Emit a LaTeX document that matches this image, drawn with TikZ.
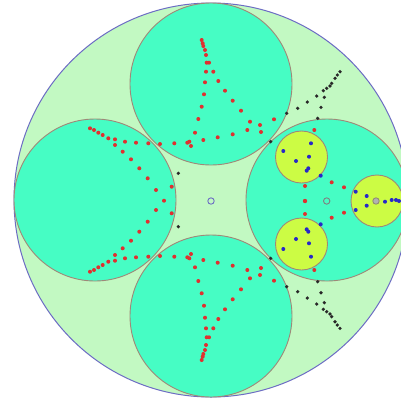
\documentclass[tikz,border=0pt]{standalone}
\begin{document}
\begin{tikzpicture}[x=1pt,y=-1pt,
  outerc/.style={fill=outerfill,draw=outerline,line width=1pt},
  bigc/.style={fill=aqua,draw=brownline,line width=0.9pt},
  yelc/.style={fill=yelfill,draw=brownline,line width=0.9pt},
  rdot/.style={fill=dotred},
  bdot/.style={fill=dotblue},
  kdot/.style={fill=dotblack}]
\definecolor{outerfill}{HTML}{C2F9C2}
\definecolor{outerline}{HTML}{6C6CC4}
\definecolor{aqua}{HTML}{46FDC4}
\definecolor{yelfill}{HTML}{CCFC44}
\definecolor{brownline}{HTML}{A08878}
\definecolor{dotred}{HTML}{E03030}
\definecolor{dotblue}{HTML}{2828C8}
\definecolor{dotblack}{HTML}{282828}
\clip (0,0) rectangle (401,400);
\fill[white] (0,0) rectangle (401,400);
% outer disc
\draw[outerc] (211,200) circle (197);
% four big discs
\draw[bigc] (211,84) circle (81);
\draw[bigc] (211,316) circle (81);
\draw[bigc] (95,200) circle (81);
\draw[bigc] (327,200) circle (81);
% three yellow discs
\draw[yelc] (301.5,157) circle (26);
\draw[yelc] (301.5,244) circle (26);
\draw[yelc] (377,201) circle (26);
% red dots, upper half and mirror
\foreach \x/\y in {201.7/40,202.7/43.3,203.3/46,205/50,206/55,206.7/62.7,209/62.7,206/71.7,213.3/71.7,
  205/82.3,204/94.3,201.7/106.7,198.3/119,195/132.7,
  218.3/81,225/90.7,232.7/100.7,241/110.7,250/121.7,260/125,274/119.3,
  203.3/140,217.7/137.3,232.7/134.3,247.3/130,261/132,189.3/141.7,191/146,
  187.3/142.7,174.3/143.3,160/144,148.3/143.3,136/142.7,125/141.7,115/139.3,115/145,
  90/128.3,94/130,98.3/132.7,102.7/135,108.3/138.3,122.7/151.7,131/159.3,139.3/168.3,
  147.7/178.3,156/190,171.7/186.7,
  314.3/130,331.7/182.3,344/187.3,305/186}
{
  \fill[rdot] (\x,\y) circle (2);
  \fill[rdot] (\x,400-\y) circle (2);
}
\fill[rdot] (164,200.7) circle (2);
\fill[rdot] (305,201) circle (2.2);
% black dots
\foreach \x/\y in {340/71.7,337.3/75,335/78.3,331.7/83.3,330/86,326.7/88.3,323.3/90.7,324.3/97.3,
  316.7/96,307.3/102,321/107.3,297.7/108.3,286.7/113.3,317.7/118.3,270.7/141.7,178.3/173.3}
{
  \fill[kdot] (\x,\y) circle (1.8);
  \fill[kdot] (\x,400-\y) circle (1.8);
}
% blue dots
\foreach \x/\y in {283.3/151,311/143.3,296/161,309/156.7,308.3/168.3,306.7/170.7,320.7/175.7}
{
  \fill[bdot] (\x,\y) circle (2);
  \fill[bdot] (\x,400-\y) circle (2);
}
\foreach \x/\y in {355.7/191.7,355.7/210,366.7/196,366.7/205.7,385/201.7,391.7/200,396/200,399/201}
  \fill[bdot] (\x,\y) circle (2);
% centre markers
\draw[draw=outerline,line width=0.9pt] (211,201) circle (3.2);
\draw[draw=gray,line width=0.9pt] (326.7,201) circle (3.2);
\draw[draw=gray!80!olive,fill=gray!60,line width=0.9pt] (376,201) circle (3.2);
\end{tikzpicture}
\end{document}
